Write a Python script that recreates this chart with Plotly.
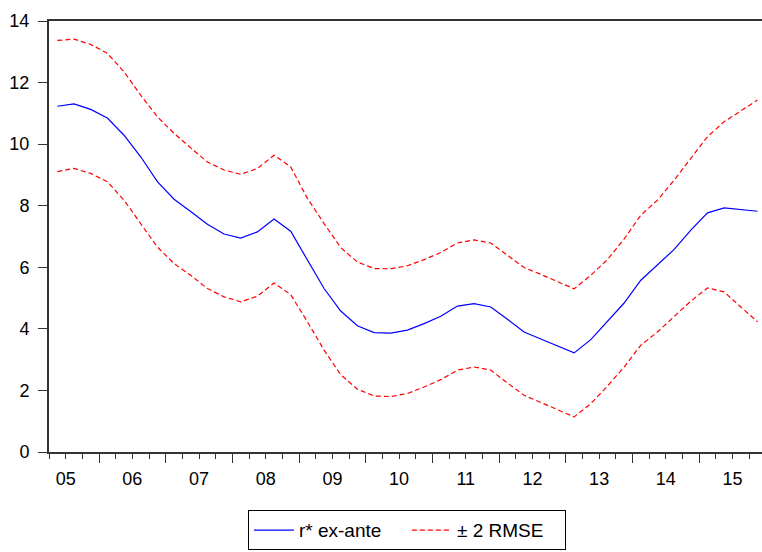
import plotly.graph_objects as go

# Quarterly sample 2005Q2 - 2015Q4
periods = [f"{y}Q{q}" for y in range(2005, 2016) for q in range(1, 5)][1:]
year_labels = ["05", "06", "07", "08", "09", "10", "11", "12", "13", "14", "15"]

r_star = [11.23, 11.31, 11.13, 10.85, 10.29, 9.59, 8.78, 8.21, 7.81, 7.40,
          7.08, 6.95, 7.15, 7.57, 7.17, 6.23, 5.31, 4.58, 4.10, 3.88,
          3.86, 3.96, 4.17, 4.41, 4.74, 4.82, 4.71, 4.31, 3.90, 3.67,
          3.45, 3.22, 3.65, 4.23, 4.84, 5.58, 6.07, 6.58, 7.21, 7.77,
          7.93, 7.88, 7.82]
upper = [13.37, 13.41, 13.24, 12.95, 12.35, 11.59, 10.89, 10.35, 9.88, 9.42,
         9.16, 9.02, 9.21, 9.64, 9.26, 8.24, 7.42, 6.64, 6.17, 5.96,
         5.95, 6.05, 6.25, 6.48, 6.79, 6.89, 6.79, 6.39, 5.99, 5.77,
         5.53, 5.30, 5.74, 6.25, 6.92, 7.69, 8.18, 8.83, 9.54, 10.24,
         10.73, 11.08, 11.43]
lower = [9.11, 9.21, 9.05, 8.78, 8.18, 7.42, 6.66, 6.12, 5.74, 5.31,
         5.04, 4.88, 5.06, 5.49, 5.11, 4.23, 3.31, 2.51, 2.04, 1.82,
         1.80, 1.90, 2.11, 2.35, 2.66, 2.76, 2.66, 2.24, 1.84, 1.61,
         1.38, 1.14, 1.57, 2.14, 2.76, 3.47, 3.90, 4.39, 4.90, 5.33,
         5.20, 4.71, 4.23]

idx = list(range(len(periods)))
first_q = 2  # sample starts in Q2
year_centers = [(4 * k + 1.5) - (first_q - 1) for k in range(len(year_labels))]
year_bounds = [c + 2 for c in year_centers[:-1]]

FONT = "Liberation Sans, Arial, sans-serif"
AXC = "#333333"
xr = [-0.5, 42.27]

fig = go.Figure()
fig.add_trace(go.Scatter(x=idx, y=r_star, mode="lines", name="r* ex-ante",
                         line=dict(color="#0000FF", width=1.2)))
fig.add_trace(go.Scatter(x=idx, y=upper, mode="lines", name="± 2 RMSE",
                         line=dict(color="#FF0000", width=1.2, dash="5px,3px")))
fig.add_trace(go.Scatter(x=idx, y=lower, mode="lines", name="± 2 RMSE",
                         showlegend=False,
                         line=dict(color="#FF0000", width=1.2, dash="5px,3px")))
# invisible helper trace for the label axis
fig.add_trace(go.Scatter(x=idx, y=r_star, xaxis="x2", mode="lines",
                         showlegend=False, hoverinfo="skip",
                         line=dict(width=0), opacity=0))

fig.update_layout(
    width=762, height=552,
    margin=dict(l=49, r=0, t=21, b=100, autoexpand=False),
    paper_bgcolor="white", plot_bgcolor="white",
    font=dict(family=FONT, size=18, color="black"),
    showlegend=True,
    legend=dict(orientation="h", x=0.502, xanchor="center", y=-0.135, yanchor="top",
                bordercolor="black", borderwidth=1, font=dict(size=19),
                itemwidth=40, entrywidth=103, entrywidthmode="pixels"),
    xaxis=dict(range=xr, showgrid=False, zeroline=False, showline=True,
               linecolor=AXC, linewidth=2, mirror=True,
               tickmode="array", tickvals=year_bounds, ticks="outside",
               ticklen=9, tickwidth=1, tickcolor=AXC, showticklabels=False,
               minor=dict(tick0=-0.5, dtick=1, ticks="outside", ticklen=5,
                          tickwidth=1, tickcolor=AXC)),
    xaxis2=dict(range=xr, overlaying="x", side="bottom", showgrid=False,
                zeroline=False, showline=False, tickmode="array",
                tickvals=year_centers, ticktext=year_labels, ticks="",
                ticklabelstandoff=14, tickfont=dict(size=18)),
    yaxis=dict(range=[0, 14], showgrid=False, zeroline=False, showline=True,
               linecolor=AXC, linewidth=2, tickmode="array",
               tickvals=[0, 2, 4, 6, 8, 10, 12, 14], ticks="outside",
               ticklen=9, tickwidth=1, tickcolor=AXC, ticklabelstandoff=5,
               tickfont=dict(size=18)),
)

fig.write_html("out.html")
